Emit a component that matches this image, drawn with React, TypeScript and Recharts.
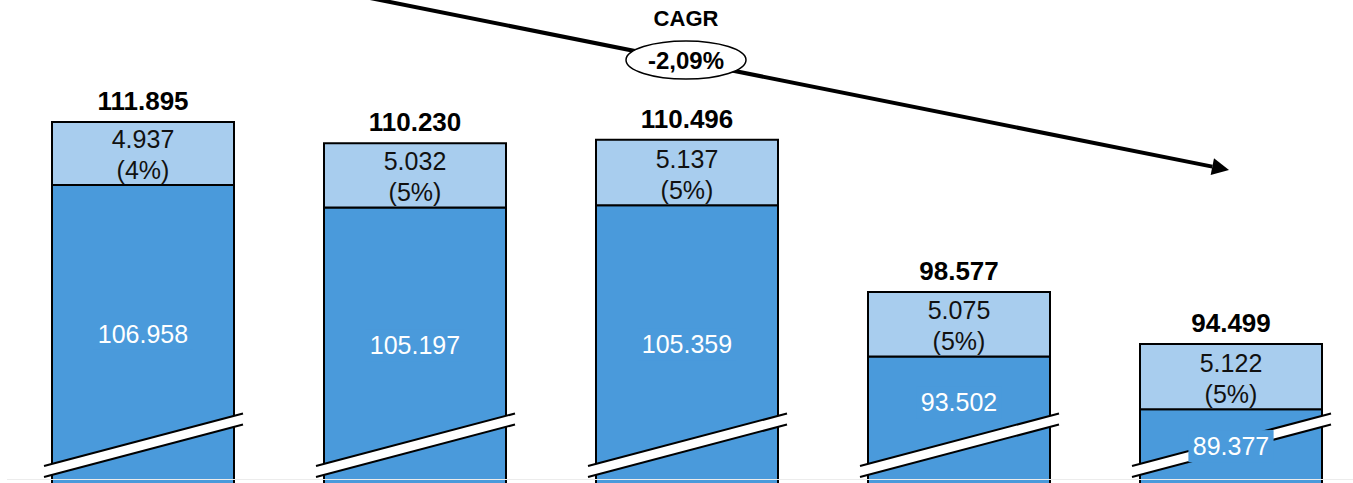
import { BarChart, Bar, XAxis, YAxis, LabelList } from 'recharts';

// stacked values per period (bottom = core, top = add-on)
const periods = ['P1', 'P2', 'P3', 'P4', 'P5'];
const baseValues = [106958, 105197, 105359, 93502, 89377];
const topValues = [4937, 5032, 5137, 5075, 5122];
const totals = [111895, 110230, 110496, 98577, 94499];
const cagrLabel = '-2,09%';

const data = periods.map((p, i) => ({ period: p, base: baseValues[i], top: topValues[i] }));

const FONT = '"Liberation Sans", Arial, sans-serif';
const DARK = '#4A9ADB';
const LIGHT = '#A8CDEE';
const VIEW_BOTTOM = 483;

const fmt = (n: number) => String(n).replace(/\B(?=(\d{3})+(?!\d))/g, '.');

const box = (props: any) => {
  const vb = props.viewBox ?? props;
  return { x: Number(vb.x), y: Number(vb.y), width: Number(vb.width), height: Number(vb.height) };
};

/* break marks across the lower segment + its white value label */
const BaseLabel = (props: any) => {
  const { x, y, width } = box(props);
  const idx = props.index;
  const value = baseValues[idx];
  const x1 = x - 8;
  const x2 = x + width + 9;
  const yl = 471.5;
  const yr = 419;
  const half = 5.5;
  const cx = x + width / 2;
  const label = fmt(value);
  const tw = label.length * 13.2;
  // top edge of the break band at a given x
  const bandTop = (px: number) => yl - half + ((px - x1) / (x2 - x1)) * (yr - yl);
  let cy = (y + VIEW_BOTTOM) / 2;
  if (cy + 16 > bandTop(cx + tw / 2) && bandTop(cx) - y >= 70) {
    // room above the break: sit the label there
    cy = (y + bandTop(cx)) / 2 + 4;
  }
  return (
    <g>
      <polygon
        points={`${x1},${yl - half} ${x2},${yr - half} ${x2},${yr + half} ${x1},${yl + half}`}
        fill="#fff"
      />
      <line x1={x1} y1={yl - half} x2={x2} y2={yr - half} stroke="#000" strokeWidth={2} />
      <line x1={x1} y1={yl + half} x2={x2} y2={yr + half} stroke="#000" strokeWidth={2} />
      <rect x={cx - tw / 2 - 3} y={cy - 16} width={tw + 6} height={32} fill={DARK} />
      <text x={cx} y={cy + 9} textAnchor="middle" fontFamily={FONT} fontSize={25} fill="#fff">
        {label}
      </text>
    </g>
  );
};

/* value + share inside the top segment, total above the bar */
const TopLabel = (props: any) => {
  const { x, y, width, height } = box(props);
  const idx = props.index;
  const cx = x + width / 2;
  const top = topValues[idx];
  const total = totals[idx];
  const share = Math.round((top / total) * 100);
  const mid = y + height / 2;
  return (
    <g fontFamily={FONT} textAnchor="middle">
      <text x={cx} y={mid - 5} fontSize={25} fill="#111">
        {fmt(top)}
      </text>
      <text x={cx} y={mid + 26} fontSize={25} fill="#111">
        ({share}%)
      </text>
      <text x={cx} y={y - 12} fontSize={26} fontWeight={700} fill="#000">
        {fmt(total)}
      </text>
    </g>
  );
};

// CAGR trend arrow
const tail = { x: 370, y: -2 };
const tip = { x: 1229, y: 170 };
const dx = tip.x - tail.x;
const dy = tip.y - tail.y;
const len = Math.hypot(dx, dy);
const ux = dx / len;
const uy = dy / len;
const headLen = 17;
const headHalf = 8.5;
const bx = tip.x - ux * headLen;
const by = tip.y - uy * headLen;

export default function App() {
  return (
    <div
      style={{
        position: 'absolute',
        left: 0,
        top: 0,
        width: 1353,
        height: VIEW_BOTTOM,
        overflow: 'hidden',
        background: '#fff',
      }}
    >
      <BarChart
        width={1380}
        height={500}
        data={data}
        margin={{ top: 0, right: 13, bottom: 0, left: 7 }}
        barSize={182}
      >
        <XAxis dataKey="period" hide />
        <YAxis hide domain={[82260, 121460]} allowDataOverflow />
        <Bar dataKey="base" stackId="s" fill={DARK} stroke="#000" strokeWidth={2} isAnimationActive={false}>
          <LabelList dataKey="base" content={<BaseLabel />} />
        </Bar>
        <Bar dataKey="top" stackId="s" fill={LIGHT} stroke="#000" strokeWidth={2} isAnimationActive={false}>
          <LabelList dataKey="top" content={<TopLabel />} />
        </Bar>
      </BarChart>

      <svg
        width={1353}
        height={VIEW_BOTTOM}
        style={{ position: 'absolute', left: 0, top: 0, pointerEvents: 'none' }}
      >
        <line x1={7} y1={479.5} x2={1353} y2={479.5} stroke="#ececec" strokeWidth={1} />
        <line x1={tail.x} y1={tail.y} x2={bx} y2={by} stroke="#000" strokeWidth={4} />
        <polygon
          points={`${tip.x},${tip.y} ${bx - uy * headHalf},${by + ux * headHalf} ${bx + uy * headHalf},${by - ux * headHalf}`}
          fill="#000"
        />
        <text x={686} y={26} textAnchor="middle" fontFamily={FONT} fontSize={22} fontWeight={700} fill="#000">
          CAGR
        </text>
        <ellipse cx={686} cy={60} rx={60} ry={19} fill="#fff" stroke="#000" strokeWidth={1.5} />
        <text x={686} y={68.5} textAnchor="middle" fontFamily={FONT} fontSize={24} fontWeight={700} fill="#000">
          {cagrLabel}
        </text>
      </svg>
    </div>
  );
}
